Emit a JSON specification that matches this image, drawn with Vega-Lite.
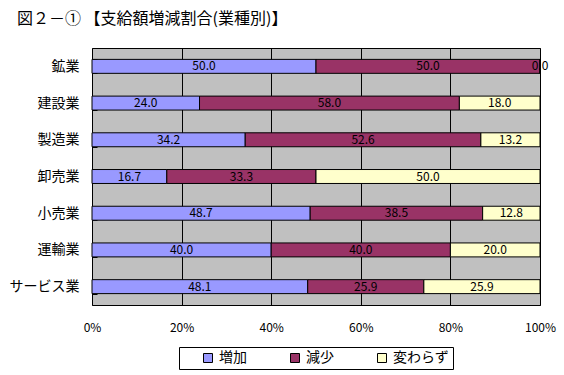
{
  "$schema": "https://vega.github.io/schema/vega-lite/v6.json",
  "width": 448,
  "height": 257,
  "autosize": {"type": "none"},
  "padding": {"left": 92, "top": 48, "right": 24, "bottom": 70},
  "background": "white",
  "config": {"font": "Noto Sans CJK JP", "view": {"stroke": "#000", "fill": "#C0C0C0"}},
  "title": {"text": "図２－① 【支給額増減割合(業種別)】", "anchor": "start", "frame": "group", "dx": -75, "offset": 14, "fontSize": 16, "fontWeight": "normal", "font": "Noto Sans CJK JP", "color": "#000"},
  "data": {"values": [
    {"業種": "鉱業", "区分": "増加", "値": 50.0, "k": 1},
    {"業種": "鉱業", "区分": "減少", "値": 50.0, "k": 2},
    {"業種": "鉱業", "区分": "変わらず", "値": 0.0, "k": 3},
    {"業種": "建設業", "区分": "増加", "値": 24.0, "k": 1},
    {"業種": "建設業", "区分": "減少", "値": 58.0, "k": 2},
    {"業種": "建設業", "区分": "変わらず", "値": 18.0, "k": 3},
    {"業種": "製造業", "区分": "増加", "値": 34.2, "k": 1},
    {"業種": "製造業", "区分": "減少", "値": 52.6, "k": 2},
    {"業種": "製造業", "区分": "変わらず", "値": 13.2, "k": 3},
    {"業種": "卸売業", "区分": "増加", "値": 16.7, "k": 1},
    {"業種": "卸売業", "区分": "減少", "値": 33.3, "k": 2},
    {"業種": "卸売業", "区分": "変わらず", "値": 50.0, "k": 3},
    {"業種": "小売業", "区分": "増加", "値": 48.7, "k": 1},
    {"業種": "小売業", "区分": "減少", "値": 38.5, "k": 2},
    {"業種": "小売業", "区分": "変わらず", "値": 12.8, "k": 3},
    {"業種": "運輸業", "区分": "増加", "値": 40.0, "k": 1},
    {"業種": "運輸業", "区分": "減少", "値": 40.0, "k": 2},
    {"業種": "運輸業", "区分": "変わらず", "値": 20.0, "k": 3},
    {"業種": "サービス業", "区分": "増加", "値": 48.1, "k": 1},
    {"業種": "サービス業", "区分": "減少", "値": 25.9, "k": 2},
    {"業種": "サービス業", "区分": "変わらず", "値": 25.9, "k": 3}
  ]},
  "encoding": {
    "y": {
      "field": "業種", "type": "nominal",
      "sort": ["鉱業", "建設業", "製造業", "卸売業", "小売業", "運輸業", "サービス業"],
      "scale": {"paddingInner": 0.62, "paddingOuter": 0.31},
      "axis": {"title": null, "domain": false, "tickBand": "extent", "tickSize": -5, "tickColor": "#000", "labelFontSize": 14, "labelColor": "#000", "labelPadding": 18}
    }
  },
  "layer": [
    {
      "mark": {"type": "bar", "stroke": "#000", "strokeWidth": 1},
      "encoding": {
        "x": {
          "field": "値", "type": "quantitative", "stack": "normalize",
          "axis": {"title": null, "format": "%", "values": [0, 0.2, 0.4, 0.6, 0.8, 1], "grid": true, "gridColor": "#000", "gridOpacity": 1, "ticks": false, "domain": false, "labelFontSize": 12, "labelColor": "#000", "labelPadding": 17, "labelFlush": false}
        },
        "color": {
          "field": "区分", "type": "nominal",
          "scale": {"domain": ["増加", "減少", "変わらず"], "range": ["#9999FF", "#993366", "#FFFFCC"]},
          "legend": {"orient": "none", "legendX": 87, "legendY": 299, "direction": "horizontal", "columns": 3, "title": null, "strokeColor": "#000", "fillColor": "white", "padding": 4, "symbolType": "square", "symbolSize": 81, "symbolStrokeColor": "#000", "symbolStrokeWidth": 1, "symbolOpacity": 1, "labelFontSize": 14, "labelColor": "#000", "columnPadding": 23, "symbolOffset": 18}
        },
        "order": {"field": "k"}
      }
    },
    {
      "mark": {"type": "text", "fontSize": 12, "color": "#000"},
      "encoding": {
        "x": {"field": "値", "type": "quantitative", "stack": "normalize", "bandPosition": 0.5},
        "detail": {"field": "区分"},
        "text": {"field": "値", "type": "quantitative", "format": ".1f"},
        "order": {"field": "k"}
      }
    }
  ]
}
